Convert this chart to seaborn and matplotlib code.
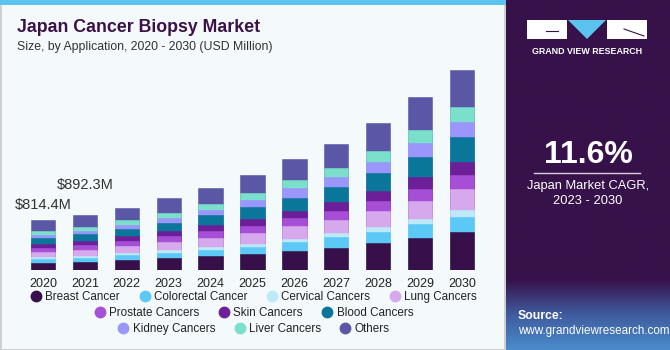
import matplotlib
matplotlib.use("Agg")
import matplotlib.pyplot as plt
import numpy as np
import pandas as pd
import seaborn as sns
from matplotlib.lines import Line2D
from matplotlib.patches import Rectangle, Polygon
from matplotlib.colors import LinearSegmentedColormap

years = ["2020", "2021", "2022", "2023", "2024", "2025", "2026", "2027", "2028", "2029", "2030"]

segments = ["Breast Cancer", "Colorectal Cancer", "Cervical Cancers", "Lung Cancers",
            "Prostate Cancers", "Skin Cancers", "Blood Cancers", "Kidney Cancers",
            "Liver Cancers", "Others"]

breast = [115, 132, 165, 193, 215, 248, 302, 358, 441, 512, 622]
colorectal = [61, 66, 74, 87, 104, 127, 149, 172, 186, 236, 248]
cervical = [28, 30, 38, 40, 45, 48, 55, 66, 78, 83, 111]
lung = [87, 99, 111, 132, 153, 182, 215, 226, 259, 302, 351]
prostate = [71, 74, 88, 99, 116, 120, 125, 137, 165, 193, 226]
skin = [66, 68, 71, 83, 99, 116, 127, 149, 170, 203, 215]
blood = [94, 111, 120, 137, 160, 193, 215, 248, 292, 335, 413]
kidney = [54, 57, 71, 83, 94, 120, 149, 165, 186, 226, 248]
liver = [61, 63, 71, 78, 87, 104, 132, 160, 182, 210, 243]
others = [177, 192, 210, 243, 269, 302, 347, 396, 462, 540, 615]

colors = ["#37104A", "#5BC8F5", "#BDE9F8", "#D6A9EC", "#A64FD6",
          "#6D1F99", "#0A769A", "#9B96FB", "#7ADFCB", "#5A57A6"]

label_years = ["2020", "2021"]
label_texts = ["$814.4M", "$892.3M"]

df = pd.DataFrame({"year": years, "Breast Cancer": breast, "Colorectal Cancer": colorectal,
                   "Cervical Cancers": cervical, "Lung Cancers": lung,
                   "Prostate Cancers": prostate, "Skin Cancers": skin,
                   "Blood Cancers": blood, "Kidney Cancers": kidney,
                   "Liver Cancers": liver, "Others": others})
cum = df[segments].cumsum(axis=1)

plt.rcParams["font.family"] = ["Liberation Sans", "DejaVu Sans"]

W, H = 670, 350
fig = plt.figure(figsize=(6.7, 3.5), dpi=100)
fig.patch.set_facecolor("#F4F9FC")

# panel frame and top strip
fig.patches.append(Rectangle((0.5 / W, 0.5 / H), 505 / W, 1 - 1 / H, transform=fig.transFigure,
                             facecolor="none", edgecolor="#C8C8C8", lw=1.2, zorder=-5))
fig.patches.append(Rectangle((0, 1 - 5 / H), 506 / W, 5 / H, transform=fig.transFigure,
                             facecolor="#5BC4EE", edgecolor="none", zorder=-4))

ax = fig.add_axes([22 / W, 80.5 / H, 461 / W, 206 / H])
ax.set_zorder(2)
ax.patch.set_alpha(0)
for seg, col in zip(segments[::-1], colors[::-1]):
    sns.barplot(x=df["year"], y=cum[seg], color=col, saturation=1, width=0.58, ax=ax,
                edgecolor=col, linewidth=0.4)
ax.set_xlim(-0.5, 10.5)
ax.set_ylim(0, 3400)
for s in ax.spines.values():
    s.set_visible(False)
ax.set_yticks([])
ax.set_xlabel("")
ax.set_ylabel("")
ax.tick_params(axis="x", length=0, labelsize=9, labelcolor="#222222", pad=6)

tot = cum["Others"].values
for yr, txt, dy in zip(label_years, label_texts, [130, 395]):
    i = years.index(yr)
    ax.text(i, tot[i] + dy, txt, ha="center", va="bottom", fontsize=10.5, color="#333333")

fig.text(17 / W, 1 - 27 / H, "Japan Cancer Biopsy Market", fontsize=12.8, fontweight="bold",
         color="#3A1248", va="center", ha="left")
fig.text(17 / W, 1 - 47 / H, "Size, by Application, 2020 - 2030 (USD Million)", fontsize=8.8,
         color="#333333", va="center", ha="left")

# legend, three centered rows
rows = [segments[0:4], segments[4:7], segments[7:10]]
row_y = [296.7, 312.7, 328.7]
for row, yy in zip(rows, row_y):
    handles = [Line2D([], [], marker="o", ls="none", markersize=7.5,
                      color=colors[segments.index(s)]) for s in row]
    fig.legend(handles, row, loc="center", bbox_to_anchor=(253 / W, 1 - yy / H), ncol=len(row),
               frameon=False, fontsize=8.4, handletextpad=0.2, columnspacing=1.5,
               handlelength=1.2, borderpad=0, labelcolor="#222222")

# right panel
rax = fig.add_axes([506 / W, 0, 164 / W, 1])
rax.set_xlim(0, 164)
rax.set_ylim(350, 0)
rax.axis("off")
cmap = LinearSegmentedColormap.from_list("p", ["#37124A", "#37124A", "#3F5B9E", "#4A8CCB"])
grad = np.linspace(0, 1, 256).reshape(-1, 1)
grad = np.clip((grad - 0.70) / 0.30, 0, 1)
rax.imshow(grad, aspect="auto", cmap=cmap, extent=[0, 164, 350, 0], zorder=0)

# logo
rax.add_patch(Rectangle((21, 20), 40, 19, facecolor="white", edgecolor="none"))
rax.add_patch(Polygon([(62, 20), (100, 20), (81, 39)], facecolor="#5BC4EE", edgecolor="none"))
rax.add_patch(Rectangle((101, 20), 40, 19, facecolor="white", edgecolor="none"))
rax.plot([40, 52], [31, 31], color="#37124A", lw=0.8)
rax.plot([118, 138], [29, 36], color="#37124A", lw=0.8)
rax.text(81, 51, "GRAND VIEW RESEARCH", color="white", fontsize=6.4, fontweight="bold",
         ha="center", va="center")

rax.text(82, 155, "11.6%", color="white", fontsize=23, fontweight="bold", ha="center", va="center")
rax.plot([28, 134], [173.3, 173.3], color="#D8D0E0", lw=1)
rax.text(82, 186, "Japan Market CAGR,", color="white", fontsize=9.3, ha="center", va="center")
rax.text(82, 201, "2023 - 2030", color="white", fontsize=9.3, ha="center", va="center")

rax.text(12, 316, "Source:", color="white", fontsize=8.8, fontweight="bold", ha="left", va="center")
rax.text(12, 331, "www.grandviewresearch.com", color="white", fontsize=8.4, ha="left", va="center")

plt.savefig("out.png", dpi=100, facecolor=fig.get_facecolor())
